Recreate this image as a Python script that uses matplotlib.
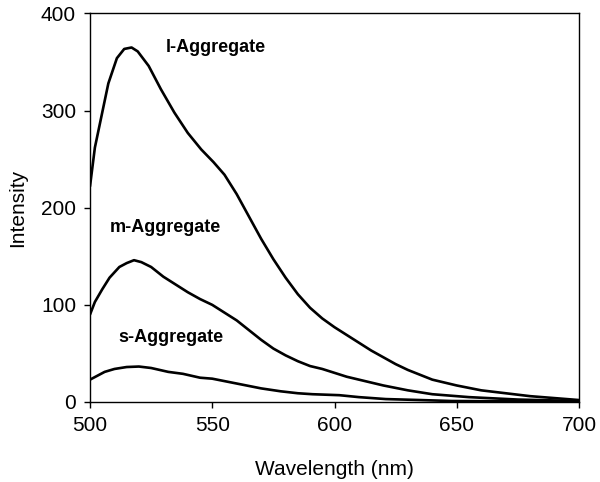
import matplotlib
matplotlib.use("Agg")
import matplotlib.pyplot as plt

plt.rcParams['font.family'] = ['Liberation Sans', 'DejaVu Sans']

wl_l = [500, 502, 505, 507.5, 511, 514, 517, 519.5, 524, 529, 534.5, 540, 545.5, 550.5, 555, 560, 565, 570,
        575, 580, 585, 590, 595, 600, 605, 610, 615, 620, 625, 630, 635, 640, 645, 650, 660, 670, 680, 690, 700]
l_agg = [222, 262, 298, 328, 354, 363.5, 365, 361, 346, 322, 298, 277, 260, 247, 234, 214, 191, 168,
         147, 128, 111, 97, 86, 77, 69, 61, 53, 46, 39, 33, 28, 23, 20, 17, 12, 9, 6, 4, 2]

wl_m = [500, 502, 505, 508, 512, 515, 518, 521, 525, 530, 535, 540, 545, 550, 555, 560, 565, 570, 575,
        580, 585, 590, 595, 600, 605, 610, 620, 630, 640, 655, 675, 700]
m_agg = [90, 103, 116, 128, 139, 143, 146, 144, 139, 129, 121, 113, 106, 100, 92, 84, 74, 64, 55,
         48, 42, 37, 34, 30, 26, 23, 17, 12, 8, 5, 2.5, 1]

wl_s = [500, 503, 506, 510, 515, 520, 525, 532, 538, 545, 550, 556, 562, 570, 578, 585, 591, 602, 610,
        621, 635, 648, 670, 700]
s_agg = [23, 27, 31, 34, 36, 36.5, 35, 31, 29, 25, 24, 21, 18, 14, 11, 9, 8, 7, 5,
         3, 2, 1, 0.7, 0.5]

labels = ["l-Aggregate", "m-Aggregate", "s-Aggregate"]
label_x = [531, 508, 511.5]
label_y = [365, 180, 66]

fig = plt.figure(figsize=(6.0, 4.82), dpi=100)
ax = fig.add_axes([0.15, 0.166, 0.815, 0.806])

for wl, vals in [(wl_l, l_agg), (wl_m, m_agg), (wl_s, s_agg)]:
    ax.plot(wl, vals, color='black', lw=1.9, solid_joinstyle='round', solid_capstyle='round')

for t, x, y in zip(labels, label_x, label_y):
    ax.text(x, y, t, fontsize=13, fontweight='bold', ha='left', va='center')

ax.set_xlim(500, 700)
ax.set_ylim(0, 400)
ax.set_xticks([500, 550, 600, 650, 700])
ax.set_yticks([0, 100, 200, 300, 400])
ax.tick_params(direction='out', length=4, width=1, labelsize=15, pad=6)
ax.set_xlabel("Wavelength (nm)", fontsize=15, labelpad=18)
ax.set_ylabel("Intensity", fontsize=15, labelpad=10)
for sp in ax.spines.values():
    sp.set_linewidth(1.0)

fig.savefig("out.png", dpi=100)
